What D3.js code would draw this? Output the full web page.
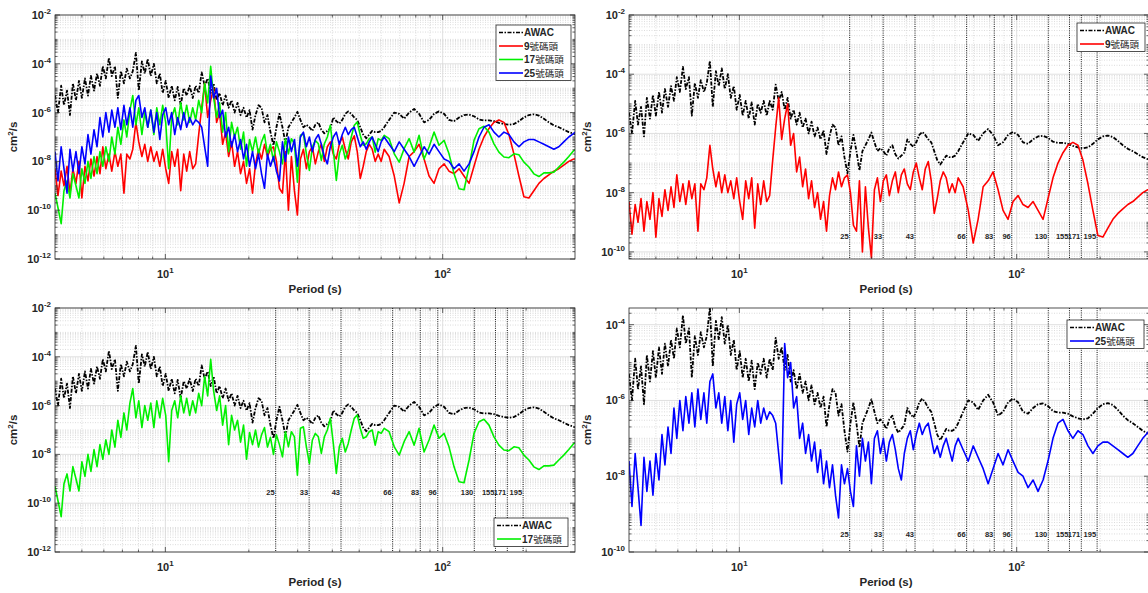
<!DOCTYPE html>
<html>
<head>
<meta charset="utf-8">
<script src="https://cdn.jsdelivr.net/npm/d3@7"></script>
<style>
  body { margin: 0; background: #fff; }
  svg { display: block; }
  text { font-family: "Liberation Sans", Arial, sans-serif; fill: #262626; }
</style>
</head>
<body>
<svg id="chart" width="1148" height="593"></svg>
<script>
// Period (s) of each spectral estimate, shared by all series
const periods = [
  4.00, 4.10, 4.21, 4.31, 4.42, 4.53, 4.64, 4.76, 4.88, 5.00,
  5.13, 5.26, 5.39, 5.53, 5.67, 5.81, 5.95, 6.10, 6.26, 6.41,
  6.58, 6.74, 6.91, 7.09, 7.26, 7.45, 7.63, 7.83, 8.02, 8.23,
  8.43, 8.64, 8.86, 9.09, 9.31, 9.55, 9.78, 10.03, 10.28, 10.54,
  10.81, 11.08, 11.36, 11.65, 11.94, 12.24, 12.55, 12.86, 13.19, 13.52,
  13.86, 14.21, 14.57, 14.93, 15.31, 15.69, 16.09, 16.49, 16.91, 17.33,
  17.77, 18.21, 18.67, 19.14, 19.62, 20.12, 20.62, 21.14, 21.67, 22.22,
  22.78, 23.35, 23.93, 24.54, 25.15, 25.78,
  26.44, 27.10, 27.78, 28.48, 29.20, 29.93, 30.69, 31.46, 32.25, 33.06,
  33.89, 34.74, 35.62, 36.51, 37.43, 38.38, 39.34, 40.33, 41.35, 42.39,
  43.45, 44.55, 45.66, 46.81, 47.99, 49.20, 50.44, 51.70, 53.01, 54.34,
  55.71, 57.11, 58.54, 60.01, 61.52,
  64.1, 66.9, 69.7, 72.6, 75.7, 78.9, 82.2, 85.7, 89.3, 93.1,
  97.0, 101.2, 105.4, 109.9, 114.6, 119.4, 124.5, 129.7, 135.2, 140.9,
  146.9, 153.1, 159.5, 166.3, 173.3, 180.7, 188.3, 196.3, 204.6, 213.2,
  222.3, 231.7, 241.5, 251.7, 262.3, 273.3, 284.9, 296.9, 300
];

// log10 of spectral density (cm^2/s)
const awacLog = [
  -5.3, -6.0, -4.9, -5.7, -5.1, -6.1, -4.8, -5.5, -4.7, -5.4,
  -4.6, -5.3, -4.5, -5.1, -4.4, -4.9, -4.1, -4.6, -3.75, -4.5,
  -4.1, -5.4, -4.3, -4.8, -4.2, -4.6, -4.3, -3.55, -5.1, -3.9,
  -4.4, -3.8, -4.5, -4.0, -4.8, -4.4, -5.2, -4.7, -5.4, -4.9,
  -5.5, -4.95, -5.7, -5.0, -5.3, -4.9, -5.4, -4.9, -5.2, -4.35,
  -4.9, -4.6, -5.2, -4.8, -5.5, -5.2, -5.7, -5.3, -5.8, -5.5,
  -6.0, -5.6, -6.1, -5.8, -6.2, -5.9, -6.7, -6.1, -5.7, -5.8,
  -6.4, -6.1, -6.8, -7.35, -6.6, -6.05,
  -6.6, -7.25, -6.6, -6.4, -6.2, -5.97, -6.3, -6.6, -6.5, -6.6,
  -6.75, -6.5, -6.4, -6.7, -6.85, -6.75, -6.65, -6.2, -6.35, -6.45,
  -6.3, -6.05, -5.95, -6.05, -6.2, -6.3, -6.6, -6.9, -7.05, -6.9,
  -6.75, -6.8, -6.8, -6.75, -6.6,
  -6.3, -6.0, -6.05, -6.25, -6.0, -5.85, -6.05, -6.4, -6.3, -6.05,
  -5.95, -6.05, -6.3, -6.35, -6.2, -6.1, -6.08, -6.15, -6.28, -6.32,
  -6.32, -6.35, -6.42, -6.47, -6.5, -6.47, -6.35, -6.2, -6.1, -6.07,
  -6.12, -6.25, -6.4, -6.52, -6.6, -6.7, -6.8, -6.87, -6.88
];

const pier9Log = [
  -8.3, -9.4, -8.4, -9.0, -8.2, -9.3, -8.3, -8.9, -8.0, -9.5,
  -8.2, -8.8, -7.9, -8.6, -7.8, -8.5, -7.4, -8.3, -7.7, -8.4,
  -7.6, -8.2, -7.7, -9.3, -7.7, -7.9, -7.5, -6.4, -7.2, -7.8,
  -7.3, -8.0, -7.4, -8.0, -7.6, -8.2, -7.5, -8.3, -8.9, -7.6,
  -8.2, -7.5, -9.2, -7.7, -8.4, -7.6, -8.3, -8.1, -6.9, -5.8,
  -4.8, -6.2, -5.5, -5.0, -6.4, -6.0, -7.3, -6.8, -7.8, -7.2,
  -8.2, -7.6, -8.5, -8.0, -8.9, -8.3, -9.3, -8.1, -7.5, -7.9,
  -7.3, -7.8, -7.5, -7.4, -8.0, -9.1,
  -9.3, -7.6, -10.0, -7.8, -9.2, -10.2, -7.9, -7.5, -8.3, -7.6,
  -7.4, -8.1, -7.6, -7.3, -8.0, -7.4, -7.2, -7.7, -7.9, -7.3,
  -7.0, -7.5, -7.9, -7.2, -6.95, -7.6, -8.7, -8.2, -7.6, -7.3,
  -7.5, -8.0, -7.7, -8.0, -7.5,
  -7.8, -8.6, -9.7, -8.9, -7.8, -7.6, -7.3, -7.9, -8.6, -8.9,
  -8.3, -8.1, -8.4, -8.5, -8.3, -8.6, -8.9, -8.2, -7.5, -7.0,
  -6.65, -6.4, -6.3, -6.4, -6.9, -7.7, -8.6, -9.45, -9.5, -9.2,
  -8.9, -8.7, -8.55, -8.4, -8.3, -8.15, -8.0, -7.9, -7.9
];

const pier17Log = [
  -9.3, -9.9, -10.55, -9.2, -8.8, -9.5, -8.5, -9.0, -9.5, -8.3,
  -8.9, -8.0, -8.7, -7.8, -8.5, -7.6, -8.2, -7.4, -8.0, -7.0,
  -7.7, -6.6, -7.3, -6.3, -7.0, -5.9, -5.3, -6.5, -5.8, -6.9,
  -6.0, -6.6, -5.9, -6.9, -5.8, -6.5, -5.7, -6.4, -8.3, -6.2,
  -5.8, -6.5, -5.6, -6.3, -5.7, -6.4, -5.8, -6.3, -5.5, -6.0,
  -4.8, -5.6, -4.1, -5.4, -6.2, -5.6, -6.8, -6.0, -7.6, -6.4,
  -7.0, -6.6, -7.5, -6.8, -8.2, -7.1, -7.6, -7.0, -7.7, -7.2,
  -6.9, -7.7, -7.3, -8.0, -7.2, -7.6,
  -8.1, -7.07, -7.69, -7.07, -7.28, -8.85, -6.93, -6.87, -7.69, -8.37,
  -7.41, -7.14, -7.28, -7.96, -7.28, -7.0, -6.52, -7.55, -8.78, -7.69,
  -7.34, -7.9, -7.55, -7.0, -6.52, -6.39, -6.93, -7.34, -7.28, -7.07,
  -7.0, -7.62, -7.07, -7.14, -6.93,
  -7.07, -7.69, -8.03, -7.48, -7.07, -7.62, -6.93, -7.9, -7.41, -6.8,
  -7.34, -7.14, -7.69, -8.51, -9.12, -9.16, -8.23, -7.14, -6.66, -6.56,
  -6.8, -7.28, -7.62, -7.82, -7.85, -7.69, -7.73, -8.03, -8.23, -8.51,
  -8.62, -8.47, -8.47, -8.44, -8.23, -8.03, -7.8, -7.55, -7.53
];

const pier25Log = [
  -7.6, -8.8, -7.4, -8.3, -9.3, -7.5, -8.4, -7.6, -8.5, -7.4,
  -8.1, -6.9, -7.7, -6.7, -7.4, -6.2, -7.0, -6.0, -6.8, -5.9,
  -6.6, -5.8, -6.7, -5.7, -6.5, -5.8, -6.6, -5.5, -5.3, -6.2,
  -5.8, -6.6, -5.9, -6.8, -6.0, -7.1, -6.1, -5.8, -6.5, -6.0,
  -6.9, -6.2, -6.7, -6.0, -6.6, -6.2, -6.5, -6.3, -6.4, -6.6,
  -7.4, -8.2, -4.5, -5.4, -5.0, -6.2, -5.9, -7.0, -6.6, -7.4,
  -6.9, -7.6, -7.1, -7.9, -7.3, -8.2, -7.6, -8.3, -7.7, -8.5,
  -9.1, -7.7, -8.2, -7.8, -8.4, -8.8,
  -7.2, -8.0, -7.0, -7.6, -7.1, -8.2, -7.0, -6.8, -7.4, -7.0,
  -7.6, -7.1, -6.9, -7.3, -7.8, -8.1, -7.4, -7.0, -6.8, -7.3,
  -6.9, -6.6, -6.9, -6.7, -6.6, -7.0, -7.4, -7.2, -7.5, -7.2,
  -7.0, -7.3, -7.6, -7.2, -7.0,
  -7.3, -7.6, -7.2, -7.5, -7.8, -8.2, -7.8, -7.4, -7.7, -7.3,
  -7.6, -7.9, -8.0, -8.3, -8.1, -8.4, -8.1, -7.6, -7.0, -6.6,
  -6.5, -6.8, -7.0, -6.8, -6.9, -7.2, -7.4, -7.2, -7.1, -7.1,
  -7.2, -7.3, -7.4, -7.5, -7.4, -7.2, -7.0, -6.85, -6.8
];

// marked periods (s) with dotted lines
const markPeriods = [25, 33, 43, 66, 83, 96, 130, 155, 171, 195];

const seriesDefs = {
  awac: { name: 'AWAC', values: awacLog, color: '#000000', dash: '4,1.5,1.5,1.5' },
  p9:   { name: '9號碼頭', values: pier9Log, color: '#ff0000' },
  p17:  { name: '17號碼頭', values: pier17Log, color: '#00f000' },
  p25:  { name: '25號碼頭', values: pier25Log, color: '#0000ff' }
};

const panels = [
  { left: 55, right: 575, top: 15, bottom: 259, yMin: -12, yMax: -2,
    yTicks: [-12, -10, -8, -6, -4, -2], series: ['awac', 'p9', 'p17', 'p25'],
    legend: { x: 496, y: 25, w: 75 }, markY: null },
  { left: 629, right: 1149, top: 15, bottom: 259, yMin: -10.24, yMax: -2,
    yTicks: [-10, -8, -6, -4, -2], series: ['awac', 'p9'],
    legend: { x: 1077, y: 23, w: 68 }, markY: 239 },
  { left: 55, right: 575, top: 308, bottom: 552, yMin: -12, yMax: -2,
    yTicks: [-12, -10, -8, -6, -4, -2], series: ['awac', 'p17'],
    legend: { x: 494, y: 518, w: 74 }, markY: 495 },
  { left: 629, right: 1149, top: 308, bottom: 552, yMin: -10, yMax: -3.56,
    yTicks: [-10, -8, -6, -4], series: ['awac', 'p25'],
    legend: { x: 1067, y: 320, w: 77 }, markY: 537 }
];

const svg = d3.select('#chart');
svg.append('rect').attr('width', 1148).attr('height', 593).attr('fill', '#fff');

function powLabel(text, n) {
  text.append('tspan').text('10');
  text.append('tspan').attr('dy', -5).attr('font-size', 8).text(n);
}

panels.forEach(function(cfg, i) {
  const x = d3.scaleLog().domain([4, 300]).range([cfg.left, cfg.right]);
  const y = d3.scaleLog()
              .domain([Math.pow(10, cfg.yMin), Math.pow(10, cfg.yMax)])
              .range([cfg.bottom, cfg.top]);
  const g = svg.append('g');

  // minor / major tick positions
  const xMajor = [10, 100];
  const xMinor = [];
  [1, 10, 100].forEach(d => {
    for (let m = 2; m <= 9; m++) {
      const v = d * m;
      if (v > 4 && v < 300) xMinor.push(v);
    }
  });
  const yMajor = cfg.yTicks.map(n => Math.pow(10, n));
  const yMinor = [];
  for (let n = Math.floor(cfg.yMin); n <= Math.ceil(cfg.yMax); n++) {
    for (let m = 1; m <= 9; m++) {
      const lv = n + Math.log10(m);
      if (lv > cfg.yMin && lv < cfg.yMax && !(m === 1 && cfg.yTicks.includes(n))) yMinor.push(Math.pow(10, lv));
    }
  }

  // grid
  g.selectAll('.gxm').data(xMinor).enter().append('line')
    .attr('x1', d => x(d)).attr('x2', d => x(d))
    .attr('y1', cfg.top).attr('y2', cfg.bottom)
    .attr('stroke', '#cdcdcd').attr('stroke-width', 0.7).attr('stroke-dasharray', '1,1.5');
  g.selectAll('.gym').data(yMinor).enter().append('line')
    .attr('x1', cfg.left).attr('x2', cfg.right)
    .attr('y1', d => y(d)).attr('y2', d => y(d))
    .attr('stroke', '#cdcdcd').attr('stroke-width', 0.7).attr('stroke-dasharray', '1,1.5');
  g.selectAll('.gxM').data(xMajor).enter().append('line')
    .attr('x1', d => x(d)).attr('x2', d => x(d))
    .attr('y1', cfg.top).attr('y2', cfg.bottom)
    .attr('stroke', '#d8d8d8').attr('stroke-width', 0.8);
  g.selectAll('.gyM').data(yMajor).enter().append('line')
    .attr('x1', cfg.left).attr('x2', cfg.right)
    .attr('y1', d => y(d)).attr('y2', d => y(d))
    .attr('stroke', '#d8d8d8').attr('stroke-width', 0.8);

  // clip
  const clipId = 'clip' + i;
  svg.append('clipPath').attr('id', clipId).append('rect')
    .attr('x', cfg.left).attr('y', cfg.top)
    .attr('width', cfg.right - cfg.left).attr('height', cfg.bottom - cfg.top);

  // marked periods
  if (cfg.markY !== null) {
    g.selectAll('.mark').data(markPeriods).enter().append('line')
      .attr('x1', d => x(d)).attr('x2', d => x(d))
      .attr('y1', cfg.top).attr('y2', cfg.bottom)
      .attr('stroke', '#111').attr('stroke-width', 1).attr('stroke-dasharray', '1,1.2');
    g.selectAll('.markLab').data(markPeriods).enter().append('text')
      .attr('x', d => x(d) - 1).attr('y', cfg.markY)
      .attr('text-anchor', 'end').attr('font-size', 7.5).attr('font-weight', 'bold')
      .text(d => d);
  }

  // series
  const line = d3.line()
    .x(d => x(d[0]))
    .y(d => y(Math.pow(10, d[1])));
  const plot = g.append('g').attr('clip-path', `url(#${clipId})`);
  cfg.series.forEach(key => {
    const s = seriesDefs[key];
    const pts = periods.map((p, j) => [p, s.values[j]]);
    plot.append('path')
      .datum(pts)
      .attr('d', line)
      .attr('fill', 'none')
      .attr('stroke', s.color)
      .attr('stroke-width', key === 'awac' ? 1.8 : 1.6)
      .attr('stroke-linejoin', 'round')
      .attr('stroke-dasharray', s.dash || null);
  });

  // box and ticks
  g.append('rect')
    .attr('x', cfg.left).attr('y', cfg.top)
    .attr('width', cfg.right - cfg.left).attr('height', cfg.bottom - cfg.top)
    .attr('fill', 'none').attr('stroke', '#262626').attr('stroke-width', 0.8);
  const tick = (x1, y1, x2, y2) => g.append('line')
    .attr('x1', x1).attr('y1', y1).attr('x2', x2).attr('y2', y2)
    .attr('stroke', '#262626').attr('stroke-width', 0.7);
  xMajor.forEach(v => { tick(x(v), cfg.bottom, x(v), cfg.bottom - 5); tick(x(v), cfg.top, x(v), cfg.top + 5); });
  xMinor.forEach(v => { tick(x(v), cfg.bottom, x(v), cfg.bottom - 2.5); tick(x(v), cfg.top, x(v), cfg.top + 2.5); });
  yMajor.forEach(v => { tick(cfg.left, y(v), cfg.left + 5, y(v)); tick(cfg.right, y(v), cfg.right - 5, y(v)); });
  yMinor.forEach(v => { tick(cfg.left, y(v), cfg.left + 2.5, y(v)); tick(cfg.right, y(v), cfg.right - 2.5, y(v)); });

  // tick labels
  cfg.yTicks.forEach(n => {
    const t = g.append('text')
      .attr('x', cfg.left - 4).attr('y', y(Math.pow(10, n)) + 4)
      .attr('text-anchor', 'end').attr('font-size', 11).attr('font-weight', 'bold');
    powLabel(t, n);
  });
  [1, 2].forEach(n => {
    const t = g.append('text')
      .attr('x', x(Math.pow(10, n))).attr('y', cfg.bottom + 19)
      .attr('text-anchor', 'middle').attr('font-size', 11).attr('font-weight', 'bold');
    powLabel(t, n);
  });

  // axis titles
  g.append('text')
    .attr('x', (cfg.left + cfg.right) / 2 + (i % 2 ? -3 : 0)).attr('y', cfg.bottom + 34)
    .attr('text-anchor', 'middle').attr('font-size', 11.5).attr('font-weight', 'bold')
    .text('Period (s)');
  const yl = g.append('text')
    .attr('transform', `translate(${cfg.left - 38},${(cfg.top + cfg.bottom) / 2}) rotate(-90)`)
    .attr('text-anchor', 'middle').attr('font-size', 11.5).attr('font-weight', 'bold');
  yl.append('tspan').text('cm');
  yl.append('tspan').attr('dy', -4).attr('font-size', 8).text('2');
  yl.append('tspan').attr('dy', 4).text('/s');

  // legend
  const lg = cfg.legend;
  const rowH = 13.5;
  const lh = cfg.series.length * rowH + 1.5;
  g.append('rect')
    .attr('x', lg.x).attr('y', lg.y).attr('width', lg.w).attr('height', lh)
    .attr('fill', '#fff').attr('stroke', '#262626').attr('stroke-width', 0.8);
  cfg.series.forEach((key, j) => {
    const s = seriesDefs[key];
    const cy = lg.y + 7.5 + j * rowH;
    g.append('line')
      .attr('x1', lg.x + 3).attr('x2', lg.x + 27).attr('y1', cy).attr('y2', cy)
      .attr('stroke', s.color).attr('stroke-width', 1.6)
      .attr('stroke-dasharray', s.dash || null);
    const t = g.append('text')
      .attr('x', lg.x + 28).attr('y', cy + 3.5)
      .attr('font-size', 10).attr('font-weight', 'bold');
    const m = s.name.match(/^(\d*)(.*)$/);
    if (m[1]) {
      t.append('tspan').text(m[1]);
      t.append('tspan').attr('font-weight', 'normal')
        .attr('font-family', '"Noto Sans CJK TC", sans-serif').attr('font-size', 9.5).text(m[2]);
    } else {
      t.text(s.name);
    }
  });
});
</script>
</body>
</html>
